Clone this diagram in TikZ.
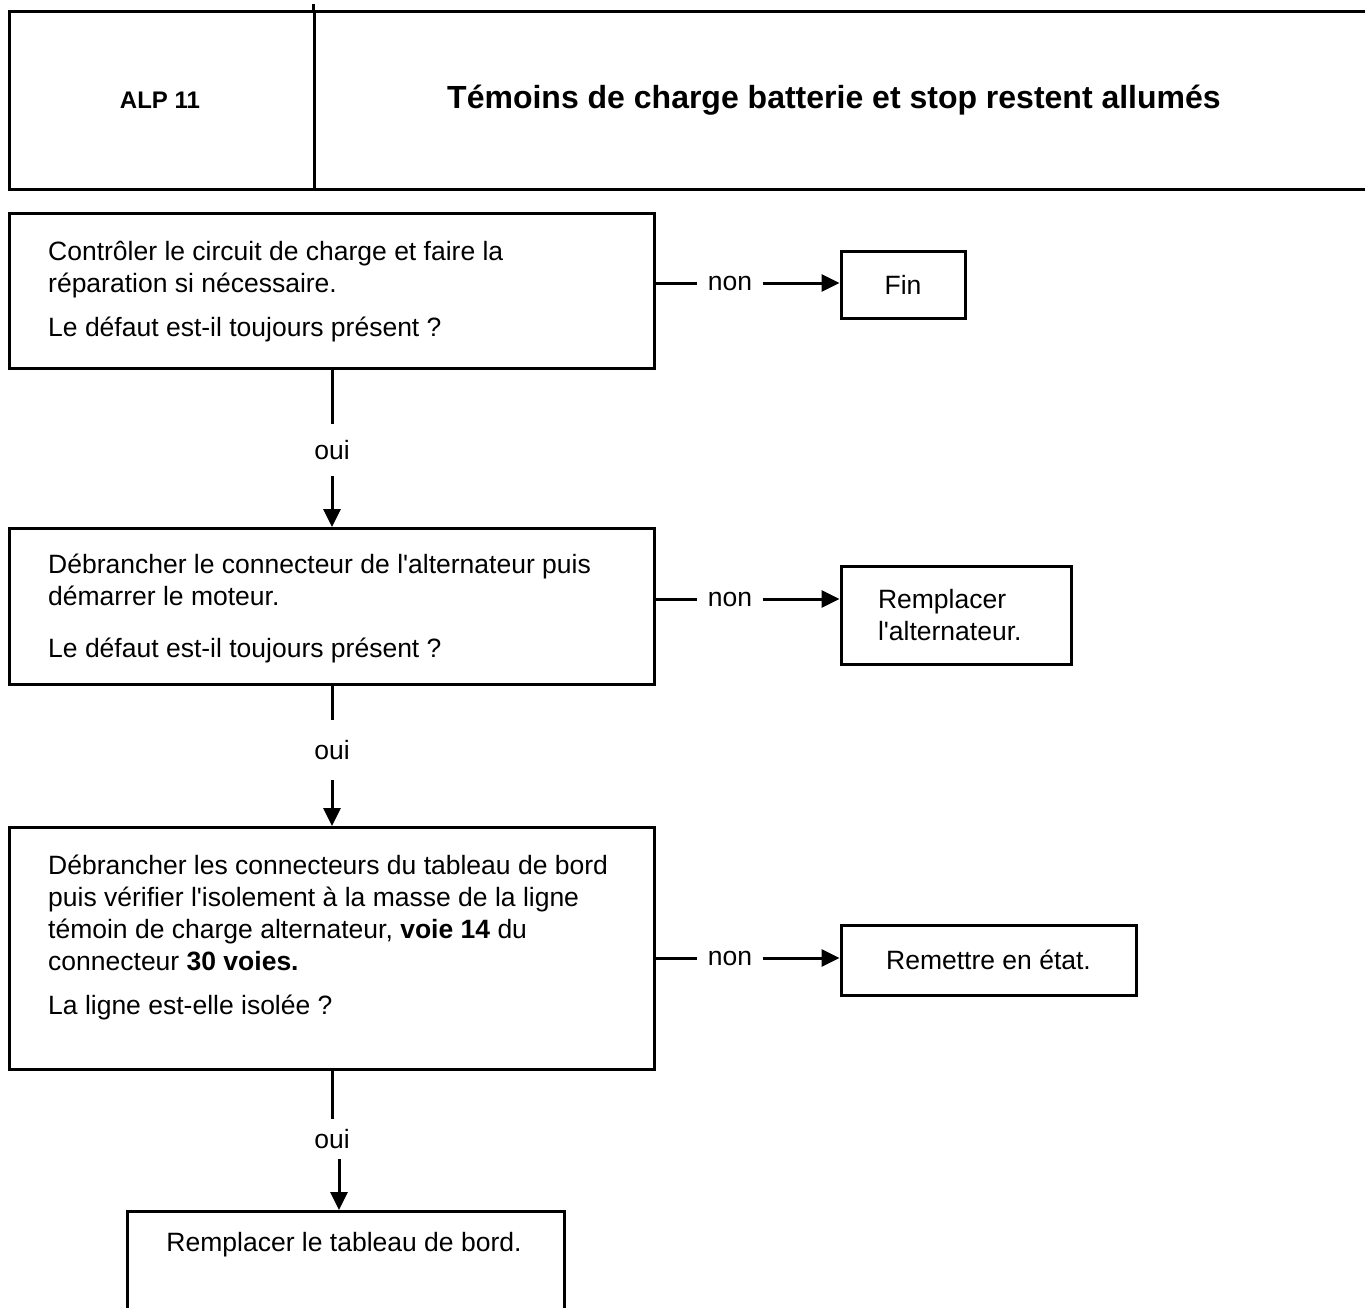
\documentclass[tikz,border=0pt]{standalone}
\usepackage{fontspec}
% TeX ligatures off so that ' stays a straight apostrophe
\setmainfont{Liberation Sans}[Ligatures=TeXOff]
\usetikzlibrary{arrows.meta}
\begin{document}
\begin{tikzpicture}[x=1pt,y=-1pt,
  frame/.style={draw, line width=3pt, inner sep=0pt, anchor=north west},
  body/.style={font=\fontsize{26.5}{32}\selectfont, inner sep=0pt, anchor=base west},
  lbl/.style={font=\fontsize{26.5}{32}\selectfont, inner sep=0pt},
  link/.style={line width=3pt},
  arr/.style={line width=3pt, -{Triangle[length=18pt,width=17pt]}}]
\useasboundingbox (0,0) rectangle (1365,1307);

% header table
\node[frame, minimum width=305, minimum height=178] (hcode) at (8,10) {};
\node[frame, minimum width=1070, minimum height=178] (htitle) at (313,10) {};
\draw[link] (htitle.north west) -- ++(0,-6);
\node[font=\fontsize{24}{28}\selectfont\bfseries] (code) at (160,100) {ALP 11};
\node[font=\fontsize{32}{38}\selectfont\bfseries] (title) at (834,100) {Témoins de charge batterie et stop restent allumés};

% step 1
\node[frame, minimum width=645, minimum height=155] (b1) at (8,212) {};
\node[body] (t1) at (48,260) {\vtop{\hbox{Contrôler le circuit de charge et faire la}\hbox{réparation si nécessaire.}\vskip12pt\hbox{Le défaut est-il toujours présent ?}}};
\node[frame, anchor=center, minimum width=124, minimum height=67, font=\fontsize{26.5}{32}\selectfont] (fin) at (903,284.5) {Fin};
\node[lbl, minimum width=65] (n1) at (730,283) {non};
\draw[link] (b1.east |- n1) -- (n1.west);
\draw[arr] (n1.east) -- (fin.west |- n1);

\node[lbl, minimum height=52] (o1) at (332,450) {oui};
\draw[link] (b1.south -| o1) -- (o1.north);

% step 2
\node[frame, minimum width=645, minimum height=156] (b2) at (8,527) {};
\draw[arr] (o1.south) -- (b2.north -| o1);
\node[body] (t2) at (48,573) {\vtop{\hbox{Débrancher le connecteur de l'alternateur puis}\hbox{démarrer le moteur.}\vskip20pt\hbox{Le défaut est-il toujours présent ?}}};
\node[frame, anchor=center, minimum height=98, inner xsep=37pt, text width=156pt, align=left, font=\fontsize{26.5}{32}\selectfont] (alt) at (956,615) {Remplacer\\l'alternateur.};
\node[lbl, minimum width=65] (n2) at (730,599) {non};
\draw[link] (b2.east |- n2) -- (n2.west);
\draw[arr] (n2.east) -- (alt.west |- n2);

\node[lbl, minimum height=60] (o2) at (332,750) {oui};
\draw[link] (b2.south -| o2) -- (o2.north);

% step 3
\node[frame, minimum width=645, minimum height=242] (b3) at (8,826) {};
\draw[arr] (o2.south) -- (b3.north -| o2);
\node[body] (t3) at (48,874) {\vtop{\hbox{Débrancher les connecteurs du tableau de bord}\hbox{puis vérifier l'isolement à la masse de la ligne}\hbox{témoin de charge alternateur, \textbf{voie 14} du}\hbox{connecteur \textbf{30 voies.}}\vskip12pt\hbox{La ligne est-elle isolée ?}}};
\node[frame, anchor=center, minimum width=295, minimum height=70, font=\fontsize{26.5}{32}\selectfont] (fix) at (988.5,960) {Remettre en état.};
\node[lbl, minimum width=65] (n3) at (730,958) {non};
\draw[link] (b3.east |- n3) -- (n3.west);
\draw[arr] (n3.east) -- (fix.west |- n3);

\node[lbl, minimum height=40] (o3) at (332,1139) {oui};
\draw[link] (b3.south -| o3) -- (o3.north);

% final step
\node[frame, minimum width=437, minimum height=130] (fb) at (126,1210) {};
\node[lbl] (ft) at (344,1245) {Remplacer le tableau de bord.};
\draw[arr] ([xshift=7]o3.south) -- ([xshift=7]o3.south |- fb.north);
\end{tikzpicture}
\end{document}
